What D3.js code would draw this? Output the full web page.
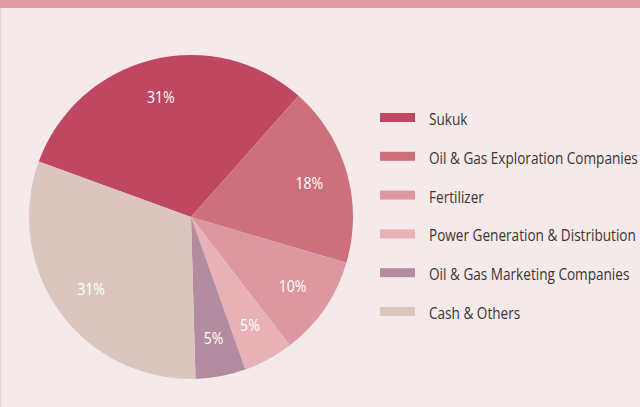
<!DOCTYPE html>
<html>
<head>
<meta charset="utf-8">
<script src="https://cdn.jsdelivr.net/npm/d3@7"></script>
<style>
  html, body { margin: 0; padding: 0; background: #f5eaea; }
  svg { display: block; }
</style>
</head>
<body>
<div id="chart"></div>
<script>
// Sizes
var w = 640;
var h = 407;

// Data
var categories = ["Sukuk", "Oil & Gas Exploration Companies", "Fertilizer",
    "Power Generation & Distribution", "Oil & Gas Marketing Companies", "Cash & Others"];
var values = [31, 18, 10, 5, 5, 31];
var colors = ["#c04762", "#cc707c", "#dc97a0", "#e8b1b6", "#b48c9f", "#dbc5bf"];

// narrow look: Open Sans squeezed horizontally
var font = "'Open Sans', sans-serif";
var squeeze = 0.8;

var svg = d3.select("#chart")
    .append("svg")
    .attr("width", w)
    .attr("height", h);

// background + borders
svg.append("rect")
    .attr("x", 0).attr("y", 0)
    .attr("width", w).attr("height", h)
    .attr("fill", "#f5eaea");
svg.append("rect")
    .attr("x", 0).attr("y", 0)
    .attr("width", w).attr("height", 8)
    .attr("fill", "#df9aa5");
svg.append("line")
    .attr("x1", 0.5).attr("x2", 0.5)
    .attr("y1", 8).attr("y2", h)
    .attr("stroke", "#e2d6d6");

// Pie
var cx = 191, cy = 217, r = 162;
var color = d3.scaleOrdinal().domain(categories).range(colors);

var pie = d3.pie()
    .sort(null)
    .startAngle(-70 * Math.PI / 180)
    .endAngle(290 * Math.PI / 180)
    .value(function (d) { return d; });

var arc = d3.arc().innerRadius(0).outerRadius(r);
var labelArc = d3.arc().innerRadius(r * 0.76).outerRadius(r * 0.76);

var arcs = pie(values);
var g = svg.append("g").attr("transform", "translate(" + cx + "," + cy + ")");

g.selectAll("path")
    .data(arcs)
    .enter()
    .append("path")
    .attr("d", arc)
    .attr("fill", function (d, i) { return color(categories[i]); });

g.selectAll(".pie-label")
    .data(arcs)
    .enter()
    .append("text")
    .attr("class", "pie-label")
    .attr("transform", function (d) {
        return "translate(" + labelArc.centroid(d) + ") scale(0.88,1)";
    })
    .attr("dy", "0.35em")
    .attr("text-anchor", "middle")
    .attr("fill", "#ffffff")
    .style("font-family", font)
    .style("font-size", "16px")
    .text(function (d) { return d.data + "%"; });

// Legend
var legendY = d3.scalePoint()
    .domain(categories)
    .range([117.5, 311.5]);

var legend = svg.append("g").attr("class", "legend");
var rows = legend.selectAll("g")
    .data(categories)
    .enter()
    .append("g")
    .attr("transform", function (d) { return "translate(380," + legendY(d) + ")"; });

rows.append("rect")
    .attr("x", 0).attr("y", -4.5)
    .attr("width", 35).attr("height", 9)
    .attr("fill", function (d) { return color(d); });

rows.append("text")
    .attr("transform", "translate(49,7.5) scale(" + squeeze + ",1)")
    .attr("fill", "#3a3435")
    .style("font-family", font)
    .style("font-size", "17px")
    .text(function (d) { return d; });
</script>
</body>
</html>
